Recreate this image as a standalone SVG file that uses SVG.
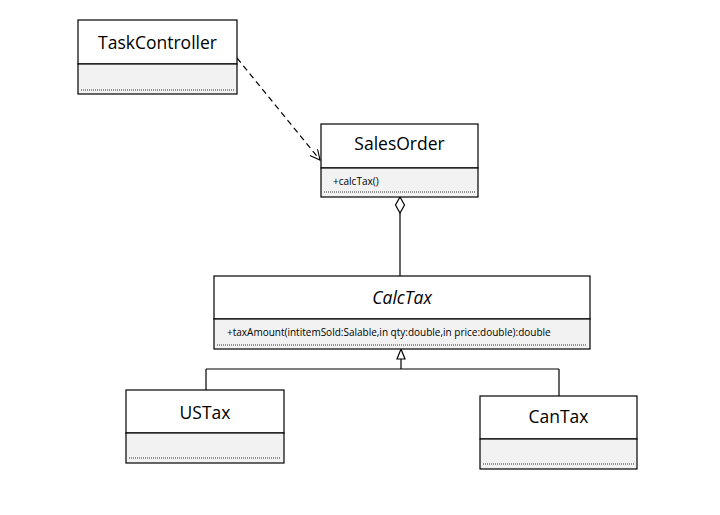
<svg xmlns="http://www.w3.org/2000/svg" width="720" height="515" viewBox="0 0 720 515">
<defs>
<style>
.box{fill:#ffffff;stroke:#000;stroke-width:1.2}
.comp{fill:#f2f2f2;stroke:#000;stroke-width:1.2}
.dot{stroke:#000;stroke-width:0.8;stroke-dasharray:1,1;fill:none}
.name{font-family:"Open Sans","Noto Sans",sans-serif;font-size:17.5px;fill:#000;text-anchor:middle}
.op{font-family:"Open Sans","Noto Sans",sans-serif;font-size:10px;fill:#000}
.line{stroke:#000;stroke-width:1.2;fill:none}
</style>
<marker id="open" markerWidth="12" markerHeight="12" refX="10" refY="5" orient="auto" markerUnits="userSpaceOnUse">
<path d="M0,0 L10,5 L0,10" fill="none" stroke="#000" stroke-width="1.1"/>
</marker>
</defs>
<rect width="720" height="515" fill="#fff"/>
<g id="connectors">
<line class="line" x1="237" y1="58" x2="320" y2="160" stroke-dasharray="6,4" marker-end="url(#open)"/>
<line class="line" x1="400" y1="213" x2="400" y2="276"/>
<path d="M400,197 L404.5,205 L400,213 L395.5,205 Z" fill="#fff" stroke="#000" stroke-width="1.2"/>
<path class="line" d="M401,359 L401,369 M206,369 L559,369 M206,369 L206,390 M559,369 L559,396"/>
<path d="M401,349 L405,359 L397,359 Z" fill="#fff" stroke="#000" stroke-width="1.2"/>
</g>
<g id="TaskController">
<rect class="box" x="78" y="20" width="159" height="44"/>
<rect class="comp" x="78" y="64" width="159" height="30"/>
<line class="dot" x1="81" y1="90" x2="234" y2="90"/>
<text class="name" x="157.5" y="49">TaskController</text>
</g>
<g id="SalesOrder">
<rect class="box" x="321" y="124" width="157" height="44"/>
<rect class="comp" x="321" y="168" width="157" height="29"/>
<line class="dot" x1="324" y1="192" x2="475" y2="192"/>
<text class="name" x="399.5" y="150">SalesOrder</text>
<text class="op" x="333" y="185">+calcTax()</text>
</g>
<g id="CalcTax">
<rect class="box" x="214" y="276" width="376" height="43"/>
<rect class="comp" x="214" y="319" width="376" height="30"/>
<line class="dot" x1="217" y1="345" x2="587" y2="345"/>
<text class="name" x="402" y="304" font-style="italic">CalcTax</text>
<text class="op" x="227" y="336">+taxAmount(intitemSold:Salable,in qty:double,in price:double):double</text>
</g>
<g id="USTax">
<rect class="box" x="126" y="390" width="158" height="43"/>
<rect class="comp" x="126" y="433" width="158" height="30"/>
<line class="dot" x1="129" y1="458" x2="281" y2="458"/>
<text class="name" x="205" y="419">USTax</text>
</g>
<g id="CanTax">
<rect class="box" x="480" y="396" width="157" height="43"/>
<rect class="comp" x="480" y="439" width="157" height="30"/>
<line class="dot" x1="483" y1="464" x2="634" y2="464"/>
<text class="name" x="558.5" y="423">CanTax</text>
</g>
</svg>
